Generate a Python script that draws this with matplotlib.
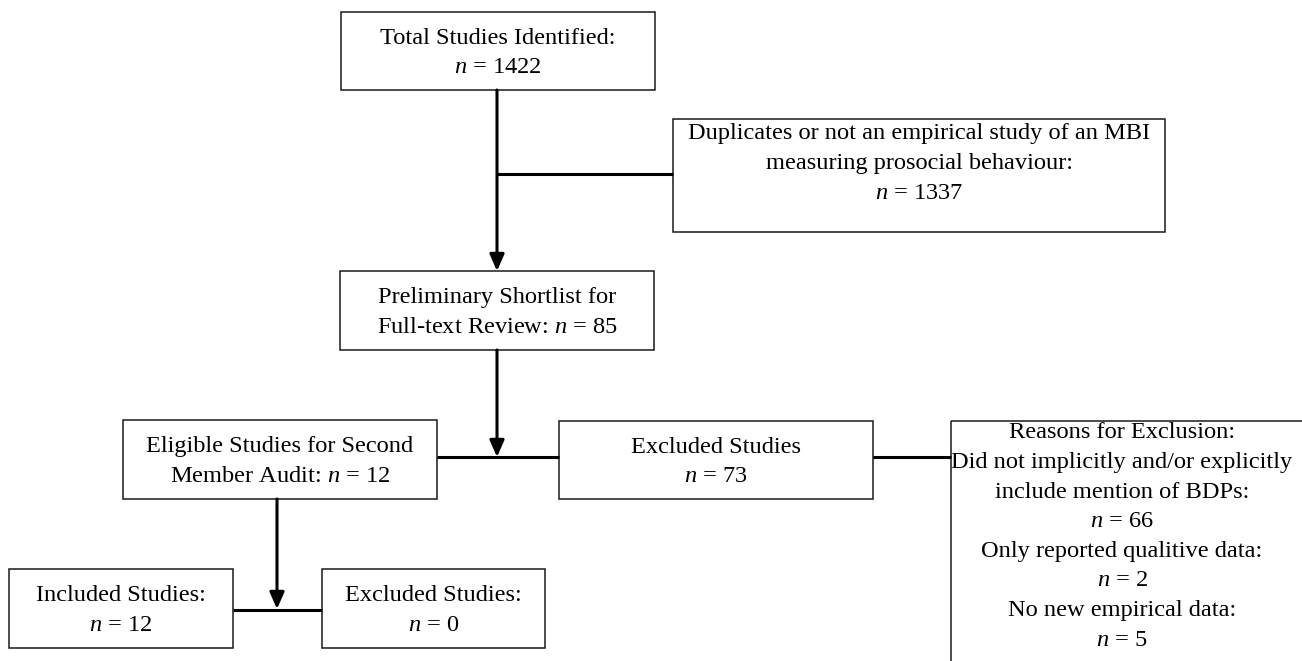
import matplotlib
matplotlib.use('Agg')
from matplotlib import pyplot as plt
from matplotlib.patches import Rectangle

plt.rcParams['font.family'] = 'Liberation Serif'
plt.rcParams['mathtext.fontset'] = 'custom'
plt.rcParams['mathtext.rm'] = 'Liberation Serif'
plt.rcParams['mathtext.it'] = 'Liberation Serif:italic'

# flow data
total_n = 1422
duplicates_n = 1337
shortlist_n = 85
eligible_n = 12
excluded_n = 73
included_n = 12
excluded_final_n = 0
reason_labels = ["Did not implicitly and/or explicitly\ninclude mention of BDPs:",
                 "Only reported qualitive data:",
                 "No new empirical data:"]
reason_counts = [66, 2, 5]


def nstr(v):
    return "$n$ = {}".format(v)


boxes = {
    'total':   dict(xy=(341, 12, 655, 90),
                    lines=["Total Studies Identified:", nstr(total_n)]),
    'dup':     dict(xy=(673, 119, 1165, 232), top=True,
                    lines=["Duplicates or not an empirical study of an MBI",
                           "measuring prosocial behaviour:", nstr(duplicates_n)]),
    'short':   dict(xy=(340, 271, 654, 350),
                    lines=["Preliminary Shortlist for",
                           "Full-text Review: " + nstr(shortlist_n)]),
    'elig':    dict(xy=(123, 420, 437, 499),
                    lines=["Eligible Studies for Second",
                           "Member Audit: " + nstr(eligible_n)]),
    'excl':    dict(xy=(559, 421, 873, 499),
                    lines=["Excluded Studies", nstr(excluded_n)]),
    'incl':    dict(xy=(9, 569, 233, 648),
                    lines=["Included Studies:", nstr(included_n)]),
    'excl2':   dict(xy=(322, 569, 545, 648),
                    lines=["Excluded Studies:", nstr(excluded_final_n)]),
}

reason_lines = ["Reasons for Exclusion:"]
for lab, c in zip(reason_labels, reason_counts):
    reason_lines += lab.split("\n") + [nstr(c)]

W, H = 1302, 661
fig = plt.figure(figsize=(W / 100, H / 100), dpi=100)
ax = fig.add_axes([0, 0, 1, 1])
ax.set_xlim(0, W)
ax.set_ylim(H, 0)
ax.axis('off')

FS = 17.6
PITCH = 29.6
lw_box = 1.1
lw_con = 2.2

for name, b in boxes.items():
    x0, y0, x1, y1 = b['xy']
    ax.add_patch(Rectangle((x0, y0), x1 - x0, y1 - y0, fill=False,
                           ec='#1a1a1a', lw=lw_box))
    cx = (x0 + x1) / 2
    n = len(b['lines'])
    if b.get('top'):
        start = y0 + 15
    else:
        start = (y0 + y1) / 2 + 2 - PITCH * (n - 1) / 2
    for i, t in enumerate(b['lines']):
        ax.text(cx, start + i * PITCH, t, ha='center', va='center', fontsize=FS)

# reasons box runs off the page edge
ax.add_patch(Rectangle((951, 421), 500, 400, fill=False, ec='#1a1a1a', lw=lw_box))
for i, t in enumerate(reason_lines):
    ax.text(1122, 433 + i * PITCH, t, ha='center', va='center', fontsize=FS)


def line(xs, ys):
    ax.plot(xs, ys, color='black', lw=lw_con, solid_capstyle='butt')


def arrow(x, y0, y1):
    ax.annotate('', xy=(x, y1), xytext=(x, y0),
                arrowprops=dict(arrowstyle='-|>,head_length=0.5,head_width=0.22',
                                mutation_scale=20, color='black', lw=lw_con,
                                shrinkA=0, shrinkB=0))


arrow(497, 90, 271)
line([497, 673], [174, 174])
arrow(497, 350, 457)
line([437, 559], [457, 457])
line([873, 951], [457, 457])
arrow(277, 499, 609)
line([233, 322], [610, 610])

fig.savefig('out.png', dpi=100)
